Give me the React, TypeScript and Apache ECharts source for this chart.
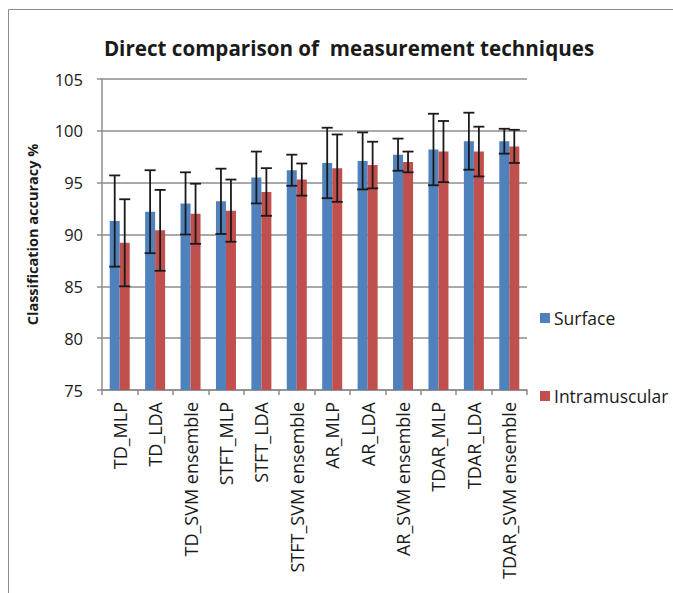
import React, { useEffect, useRef } from "react";
import * as echarts from "echarts";

const categories = [
  "TD_MLP", "TD_LDA", "TD_SVM ensemble", "STFT_MLP", "STFT_LDA", "STFT_SVM ensemble",
  "AR_MLP", "AR_LDA", "AR_SVM ensemble", "TDAR_MLP", "TDAR_LDA", "TDAR_SVM ensemble",
];
const surface = [91.3, 92.2, 93.0, 93.2, 95.5, 96.2, 96.9, 97.1, 97.7, 98.2, 99.0, 99.0];
const surfaceErr = [4.4, 4.0, 3.0, 3.15, 2.5, 1.5, 3.4, 2.75, 1.55, 3.45, 2.75, 1.2];
const intramuscular = [89.2, 90.4, 92.0, 92.3, 94.1, 95.3, 96.4, 96.7, 97.0, 98.0, 98.0, 98.5];
const intramuscularErr = [4.2, 3.9, 2.9, 3.0, 2.3, 1.55, 3.25, 2.25, 1.0, 2.95, 2.4, 1.6];
const seriesNames = ["Surface", "Intramuscular"];

const FONT = "'Open Sans', Lato, sans-serif";
const GAP = 0.435;

function errorSeries(values: number[], errs: number[], side: number) {
  return {
    type: "custom",
    silent: true,
    z: 10,
    data: values.map((v, i) => [i, v - errs[i], v + errs[i]]),
    encode: { x: 0, y: [1, 2] },
    renderItem: (params: any, api: any) => {
      const idx = api.value(0);
      const lo = api.coord([idx, api.value(1)]);
      const hi = api.coord([idx, api.value(2)]);
      const band = api.size([1, 0])[0];
      const barW = (band * (1 - GAP)) / 2;
      const x = lo[0] + (side * barW) / 2;
      const cap = 5.5;
      const style = { stroke: "#1a1a1a", lineWidth: 1.8 };
      return {
        type: "group",
        children: [
          { type: "line", shape: { x1: x, y1: hi[1], x2: x, y2: lo[1] }, style },
          { type: "line", shape: { x1: x - cap, y1: hi[1], x2: x + cap, y2: hi[1] }, style },
          { type: "line", shape: { x1: x - cap, y1: lo[1], x2: x + cap, y2: lo[1] }, style },
        ],
      };
    },
  };
}

export default function App() {
  const ref = useRef<HTMLDivElement>(null);
  useEffect(() => {
    document.body.style.margin = "0";
    const chart = echarts.init(ref.current!, null, { renderer: "svg" });
    chart.setOption({
      animation: false,
      backgroundColor: "#ffffff",
      textStyle: { fontFamily: FONT },
      title: {
        text: "Direct comparison of  measurement techniques",
        left: 344,
        textAlign: "center",
        top: 32,
        textStyle: { fontFamily: FONT, fontSize: 20.6, fontWeight: "bold", color: "#1a1a1a" },
      },
      graphic: [
        {
          type: "rect",
          shape: { x: 8.5, y: 9.5, width: 1000, height: 1000 },
          style: { fill: "none", stroke: "#8c8c8c", lineWidth: 1 },
          silent: true,
        },
      ],
      legend: {
        orient: "vertical",
        left: 535,
        top: 304,
        itemGap: 60,
        itemWidth: 10,
        itemHeight: 10,
        icon: "rect",
        data: seriesNames,
        textStyle: { fontFamily: FONT, fontSize: 17.5, color: "#1a1a1a", padding: [0, 0, 0, -1] },
      },
      grid: { left: 102, right: 146, top: 79, bottom: 203, containLabel: false },
      xAxis: {
        type: "category",
        data: categories,
        axisLine: { lineStyle: { color: "#8c8c8c", width: 1.5 } },
        axisTick: { show: true, length: 5, lineStyle: { color: "#8c8c8c", width: 1.5 } },
        axisLabel: { rotate: 90, margin: 12, fontSize: 18, color: "#1a1a1a", fontFamily: FONT, interval: 0 },
      },
      yAxis: {
        type: "value",
        min: 75,
        max: 105,
        interval: 5,
        name: "Classification accuracy %",
        nameLocation: "middle",
        nameGap: 62,
        nameTextStyle: { fontFamily: FONT, fontSize: 14.5, fontWeight: "bold", color: "#1a1a1a" },
        axisLine: { show: true, lineStyle: { color: "#8c8c8c", width: 1.5 } },
        axisTick: { show: true, length: 5, lineStyle: { color: "#8c8c8c", width: 1.5 } },
        splitLine: { lineStyle: { color: "#8c8c8c", width: 1.5 } },
        axisLabel: { margin: 19, fontSize: 16.5, color: "#1a1a1a", fontFamily: FONT },
      },
      series: [
        {
          name: seriesNames[0],
          type: "bar",
          data: surface,
          barGap: "0%",
          barCategoryGap: GAP * 100 + "%",
          itemStyle: { color: "#4F81BD" },
        },
        {
          name: seriesNames[1],
          type: "bar",
          data: intramuscular,
          itemStyle: { color: "#C0504D" },
        },
        errorSeries(surface, surfaceErr, -1),
        errorSeries(intramuscular, intramuscularErr, 1),
      ],
    });
    return () => chart.dispose();
  }, []);
  return <div ref={ref} style={{ width: 673, height: 593 }} />;
}
